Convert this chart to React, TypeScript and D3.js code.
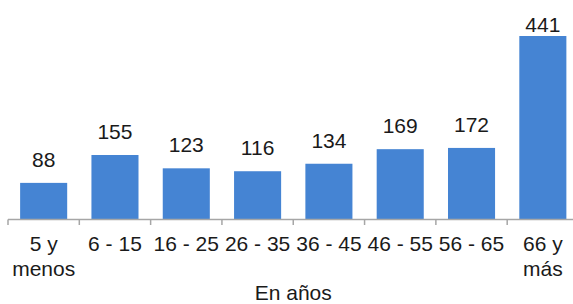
import React, { useEffect, useRef } from 'react'
import * as d3 from 'd3'

const categories = ['5 y|menos', '6 - 15', '16 - 25', '26 - 35', '36 - 45', '46 - 55', '56 - 65', '66 y|más']
const values = [88, 155, 123, 116, 134, 169, 172, 441]
const axisTitle = 'En años'

const width = 573
const height = 304
const font = '"Liberation Sans", Arial, sans-serif'

export default function App() {
  const ref = useRef<SVGSVGElement>(null)

  useEffect(() => {
    const svg = d3.select(ref.current)
    svg.selectAll('*').remove()

    const left = 8
    const right = 578.5
    const baseY = 219.5

    const xScale = d3.scaleBand<string>()
      .domain(categories)
      .range([left, right])
      .paddingInner(0.34)
      .paddingOuter(0.17)

    const yScale = d3.scaleLinear()
      .domain([0, 441])
      .range([baseY, 36])

    const step = xScale.step()

    svg.selectAll('rect.bar')
      .data(values)
      .enter()
      .append('rect')
      .attr('class', 'bar')
      .attr('x', (d, i) => xScale(categories[i])!)
      .attr('y', d => yScale(d))
      .attr('width', xScale.bandwidth())
      .attr('height', d => baseY - yScale(d))
      .attr('fill', '#4584d3')

    // axis line + ticks
    svg.append('line')
      .attr('x1', left).attr('x2', width)
      .attr('y1', baseY).attr('y2', baseY)
      .attr('stroke', '#a6a6a6').attr('stroke-width', 1.5)

    const tickXs = categories.map(c => xScale(c)! - step * 0.17)
    tickXs.push(right)
    svg.selectAll('line.tick')
      .data(tickXs)
      .enter()
      .append('line')
      .attr('class', 'tick')
      .attr('x1', d => d).attr('x2', d => d)
      .attr('y1', baseY).attr('y2', baseY + 5.5)
      .attr('stroke', '#a6a6a6').attr('stroke-width', 1.5)

    // value labels
    svg.selectAll('text.val')
      .data(values)
      .enter()
      .append('text')
      .attr('class', 'val')
      .attr('x', (d, i) => xScale(categories[i])! + xScale.bandwidth() / 2)
      .attr('y', d => Math.max(yScale(d) - 16, 32))
      .attr('text-anchor', 'middle')
      .attr('font-family', font)
      .attr('font-size', 21)
      .attr('fill', '#1a1a1a')
      .text(d => d)

    // category labels
    const cat = svg.selectAll('text.cat')
      .data(categories)
      .enter()
      .append('text')
      .attr('class', 'cat')
      .attr('x', d => xScale(d)! + xScale.bandwidth() / 2)
      .attr('y', 250.5)
      .attr('text-anchor', 'middle')
      .attr('font-family', font)
      .attr('font-size', 21)
      .attr('fill', '#1a1a1a')
    cat.each(function (d) {
      const el = d3.select(this)
      d.split('|').forEach((line, j) => {
        el.append('tspan')
          .attr('x', xScale(d)! + xScale.bandwidth() / 2)
          .attr('dy', j === 0 ? 0 : 25)
          .text(line)
      })
    })

    svg.append('text')
      .attr('x', (left + right) / 2)
      .attr('y', 300)
      .attr('text-anchor', 'middle')
      .attr('font-family', font)
      .attr('font-size', 21)
      .attr('fill', '#1a1a1a')
      .text(axisTitle)
  }, [])

  return (
    <svg
      ref={ref}
      width={width}
      height={height}
      style={{ position: 'absolute', left: 0, top: 0, background: '#fff' }}
    />
  )
}
